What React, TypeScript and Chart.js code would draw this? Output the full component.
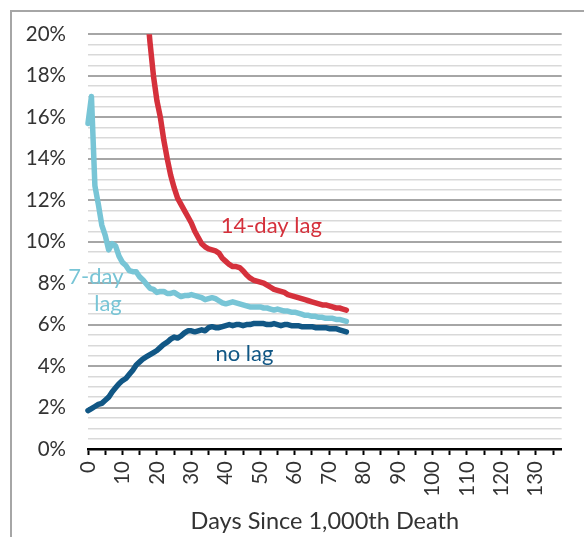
import React, { useEffect, useRef } from "react";
import { Chart, registerables } from "chart.js";

Chart.register(...registerables);

const days: number[] = Array.from({ length: 76 }, (_, i) => i);

const noLag: number[] = [
  1.85, 1.95, 2.05, 2.15, 2.2, 2.35, 2.5, 2.75, 2.95, 3.15,
  3.3, 3.4, 3.6, 3.8, 4.05, 4.2, 4.35, 4.45, 4.55, 4.65,
  4.75, 4.9, 5.05, 5.15, 5.3, 5.4, 5.35, 5.45, 5.6, 5.7,
  5.7, 5.65, 5.7, 5.75, 5.7, 5.85, 5.9, 5.85, 5.85, 5.9,
  5.95, 6.0, 5.95, 6.0, 6.0, 5.95, 6.0, 6.0, 6.05, 6.05,
  6.05, 6.05, 6.0, 6.0, 6.05, 6.0, 5.95, 6.0, 6.0, 5.95,
  5.95, 5.95, 5.9, 5.9, 5.9, 5.9, 5.85, 5.85, 5.85, 5.85,
  5.8, 5.8, 5.8, 5.75, 5.7, 5.65,
];

const lag7: number[] = [
  15.7, 17.0, 12.7, 11.8, 10.8, 10.3, 9.6, 9.9, 9.8, 9.3,
  9.0, 8.85, 8.6, 8.55, 8.55, 8.3, 8.15, 7.95, 7.75, 7.7,
  7.55, 7.6, 7.6, 7.5, 7.5, 7.55, 7.45, 7.35, 7.4, 7.4,
  7.45, 7.4, 7.35, 7.3, 7.2, 7.25, 7.3, 7.25, 7.15, 7.05,
  7.0, 7.05, 7.1, 7.05, 7.0, 6.95, 6.9, 6.85, 6.85, 6.85,
  6.85, 6.8, 6.8, 6.75, 6.7, 6.75, 6.7, 6.65, 6.65, 6.6,
  6.6, 6.55, 6.5, 6.45, 6.45, 6.4, 6.4, 6.35, 6.35, 6.3,
  6.3, 6.3, 6.25, 6.25, 6.2, 6.15,
];

const lag14Start = 14;
const lag14: number[] = [
  30.0, 27.0, 24.0, 21.5, 19.6, 18.0, 16.8, 16.0, 14.9, 14.0,
  13.2, 12.6, 12.1, 11.8, 11.5, 11.2, 10.9, 10.5, 10.2, 9.9,
  9.75, 9.65, 9.6, 9.55, 9.45, 9.2, 9.05, 8.9, 8.8, 8.8,
  8.75, 8.6, 8.4, 8.25, 8.15, 8.1, 8.05, 8.0, 7.9, 7.8,
  7.7, 7.65, 7.6, 7.55, 7.45, 7.4, 7.35, 7.3, 7.25, 7.2,
  7.15, 7.1, 7.05, 7.0, 6.95, 6.95, 6.9, 6.85, 6.8, 6.8,
  6.75, 6.7,
];

const seriesNames = ["no lag", "7-day lag", "14-day lag"];
const xTitle = "Days Since 1,000th Death";

const RED = "#D5313C";
const TEAL = "#78C5D6";
const NAVY = "#115785";

const FONT = "Lato, 'Open Sans', sans-serif";

// annotation labels (text, color, anchor in data units)
const notes = [
  { text: "14-day lag", color: RED, x: 53.2, y: 10.75 },
  { text: "7-day", color: TEAL, x: 2.3, y: 8.3 },
  { text: "lag", color: TEAL, x: 5.8, y: 7.0 },
  { text: "no lag", color: NAVY, x: 45.4, y: 4.6 },
];

const framePlugin = {
  id: "frame",
  beforeDraw(chart: any) {
    const ctx = chart.ctx;
    ctx.save();
    ctx.fillStyle = "#ffffff";
    ctx.fillRect(0, 0, chart.width, chart.height);
    ctx.strokeStyle = "#A6A6A6";
    ctx.lineWidth = 2;
    ctx.strokeRect(11, 11, chart.width + 20, chart.height + 20);
    ctx.restore();
  },
  afterDatasetsDraw(chart: any) {
    const ctx = chart.ctx;
    const xs = chart.scales.x;
    const ys = chart.scales.y;
    ctx.save();
    ctx.font = `22px ${FONT}`;
    ctx.textAlign = "center";
    ctx.textBaseline = "middle";
    for (const n of notes) {
      ctx.fillStyle = n.color;
      ctx.fillText(n.text, xs.getPixelForValue(n.x), ys.getPixelForValue(n.y));
    }
    ctx.restore();
  },
};

export default function App() {
  const ref = useRef<HTMLCanvasElement | null>(null);
  useEffect(() => {
    if (!ref.current) return;
    const chart = new Chart(ref.current, {
      type: "line",
      data: {
        datasets: [
          {
            label: seriesNames[2],
            data: lag14.map((v, i) => ({ x: lag14Start + i, y: v })),
            borderColor: RED,
          },
          {
            label: seriesNames[1],
            data: lag7.map((v, i) => ({ x: days[i], y: v })),
            borderColor: TEAL,
          },
          {
            label: seriesNames[0],
            data: noLag.map((v, i) => ({ x: days[i], y: v })),
            borderColor: NAVY,
          },
        ].map((d) => ({
          ...d,
          borderWidth: 5.5,
          pointRadius: 0,
          tension: 0,
          fill: false,
          borderJoinStyle: "round" as const,
          borderCapStyle: "round" as const,
          clip: { left: 5, top: 0, right: 5, bottom: 5 },
        })),
      },
      options: {
        animation: false,
        responsive: false,
        devicePixelRatio: 1,
        layout: { padding: { left: 10, right: 18, top: 33, bottom: 0 } },
        plugins: {
          legend: { display: false },
          tooltip: { enabled: false },
        },
        scales: {
          x: {
            type: "linear",
            min: 0,
            max: 137.5,
            afterFit: (s: any) => {
              s.height = 88;
            },
            grid: {
              drawOnChartArea: false,
              drawTicks: true,
              tickLength: 6,
              tickWidth: 2,
              tickColor: "#000000",
            },
            border: { display: true, color: "#000000", width: 2.5 },
            ticks: {
              stepSize: 5,
              includeBounds: false,
              autoSkip: false,
              minRotation: 90,
              maxRotation: 90,
              padding: 6,
              color: "#333333",
              font: { family: FONT, size: 20.5 },
              callback: (v: any) => (Number(v) % 10 === 0 ? String(v) : ""),
            },
            title: {
              display: true,
              text: xTitle,
              color: "#333333",
              font: { family: FONT, size: 23.5 },
              padding: { top: 0, bottom: 1 },
            },
          },
          y: {
            type: "linear",
            min: 0,
            max: 20,
            afterFit: (s: any) => {
              s.width = 78;
            },
            grid: {
              drawTicks: false,
              color: (c: any) => (c.tick && c.tick.value % 2 === 0 ? "#A6A6A6" : "#D9D9D9"),
              lineWidth: (c: any) => (c.tick && c.tick.value % 2 === 0 ? 2 : 1.5),
            },
            border: { display: false },
            ticks: {
              stepSize: 0.5,
              autoSkip: false,
              padding: 22,
              color: "#333333",
              font: { family: FONT, size: 20.5 },
              callback: (v: any) => (Number(v) % 2 === 0 ? `${v}%` : ""),
            },
          },
        },
      },
      plugins: [framePlugin],
    });
    return () => chart.destroy();
  }, []);
  return (
    <div style={{ position: "fixed", left: 0, top: 0, width: 584, height: 537, background: "#fff" }}>
      <canvas ref={ref} width={584} height={537} />
    </div>
  );
}
